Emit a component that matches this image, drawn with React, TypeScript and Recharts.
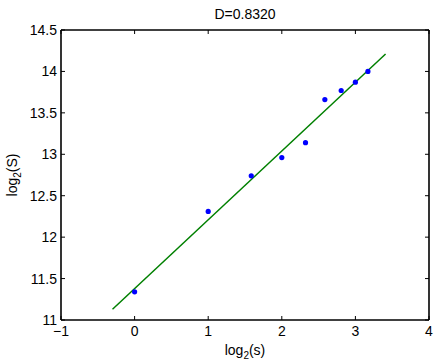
import { ReferenceLine, Scatter, ScatterChart, XAxis, YAxis } from 'recharts'

// log2(s) for s = 1..9 and the measured log2(S)
const logSizes = [0, 1, 1.585, 2, 2.322, 2.585, 2.807, 3, 3.17]
const logCounts = [11.34, 12.31, 12.74, 12.96, 13.14, 13.66, 13.77, 13.87, 14.0]

// fitted line end points
const fitX = [-0.3, 3.41]
const fitY = [11.13, 14.21]

const xTicks = [-1, 0, 1, 2, 3, 4]
const yTicks = [11, 11.5, 12, 12.5, 13, 13.5, 14, 14.5]
const title = 'D=0.8320'

const points = logSizes.map((x, i) => ({ x, y: logCounts[i] }))

const FONT = '"Liberation Sans", Arial, Helvetica, sans-serif'
const TICK_LEN = 4
const AXIS = { stroke: '#000', strokeWidth: 1.6 }

const fmt = (v: number) => String(v).replace('-', '\u2212')

function BottomTick({ x, y, payload }: any) {
  return (
    <g>
      <line x1={x} y1={y} x2={x} y2={y - TICK_LEN} stroke="#000" />
      <text x={x} y={y + 16} textAnchor="middle" fontSize={14} fontFamily={FONT} fill="#000">
        {fmt(payload.value)}
      </text>
    </g>
  )
}

function LeftTick({ x, y, payload }: any) {
  return (
    <g>
      <line x1={x} y1={y} x2={x + TICK_LEN} y2={y} stroke="#000" />
      <text x={x - 4} y={y + 5} textAnchor="end" fontSize={14} fontFamily={FONT} fill="#000">
        {payload.value}
      </text>
    </g>
  )
}

function TopTick({ x, y }: any) {
  return <line x1={x} y1={y} x2={x} y2={y + TICK_LEN} stroke="#000" />
}

function RightTick({ x, y }: any) {
  return <line x1={x} y1={y} x2={x - TICK_LEN} y2={y} stroke="#000" />
}

function XLabel({ viewBox }: any) {
  const cx = viewBox.x + viewBox.width / 2
  return (
    <text x={cx} y={viewBox.y + 35} textAnchor="middle" fontSize={14} fontFamily={FONT} fill="#000">
      log
      <tspan dy={4} fontSize={10}>2</tspan>
      <tspan dy={-4}>(s)</tspan>
    </text>
  )
}

function YLabel({ viewBox }: any) {
  const cy = viewBox.y + viewBox.height / 2
  const cx = 17
  return (
    <text
      x={cx}
      y={cy}
      transform={`rotate(-90 ${cx} ${cy})`}
      textAnchor="middle"
      fontSize={14}
      fontFamily={FONT}
      fill="#000"
    >
      log
      <tspan dy={4} fontSize={10}>2</tspan>
      <tspan dy={-4}>(S)</tspan>
    </text>
  )
}

function TitleLabel({ viewBox }: any) {
  const cx = viewBox.x + viewBox.width / 2
  return (
    <text x={cx} y={viewBox.y - 10} textAnchor="middle" fontSize={14} fontFamily={FONT} fill="#000">
      {title}
    </text>
  )
}

export default function App() {
  return (
    <div style={{ position: 'absolute', left: 0, top: 0, background: '#fff' }}>
      <ScatterChart width={436} height={360} margin={{ top: 29, right: 6, bottom: 0, left: 0 }}>
        <XAxis
          dataKey="x"
          type="number"
          domain={[-1, 4]}
          ticks={xTicks}
          height={40}
          tickSize={0}
          tickMargin={0}
          tick={<BottomTick />}
          stroke="#000"
          axisLine={AXIS}
          label={<XLabel />}
        />
        <XAxis
          xAxisId="top"
          dataKey="x"
          orientation="top"
          type="number"
          domain={[-1, 4]}
          ticks={xTicks}
          height={1}
          tickSize={0}
          tickMargin={0}
          tick={<TopTick />}
          stroke="#000"
          axisLine={AXIS}
          label={<TitleLabel />}
        />
        <YAxis
          dataKey="y"
          type="number"
          domain={[11, 14.5]}
          ticks={yTicks}
          width={61}
          tickSize={0}
          tickMargin={0}
          tick={<LeftTick />}
          stroke="#000"
          axisLine={AXIS}
          label={<YLabel />}
        />
        <YAxis
          yAxisId="right"
          dataKey="y"
          orientation="right"
          type="number"
          domain={[11, 14.5]}
          ticks={yTicks}
          width={1}
          tickSize={0}
          tickMargin={0}
          tick={<RightTick />}
          stroke="#000"
          axisLine={AXIS}
        />
        <ReferenceLine
          segment={[
            { x: fitX[0], y: fitY[0] },
            { x: fitX[1], y: fitY[1] },
          ]}
          stroke="#008000"
          strokeWidth={1.5}
          ifOverflow="visible"
        />
        {/* invisible series so the box axes on top/right get drawn */}
        <Scatter
          data={points}
          xAxisId="top"
          yAxisId="right"
          isAnimationActive={false}
          shape={() => <g />}
        />
        <Scatter
          data={points}
          fill="#0000ff"
          isAnimationActive={false}
          shape={(p: any) => <circle cx={p.cx} cy={p.cy} r={2.6} fill="#0000ff" />}
        />
      </ScatterChart>
    </div>
  )
}
